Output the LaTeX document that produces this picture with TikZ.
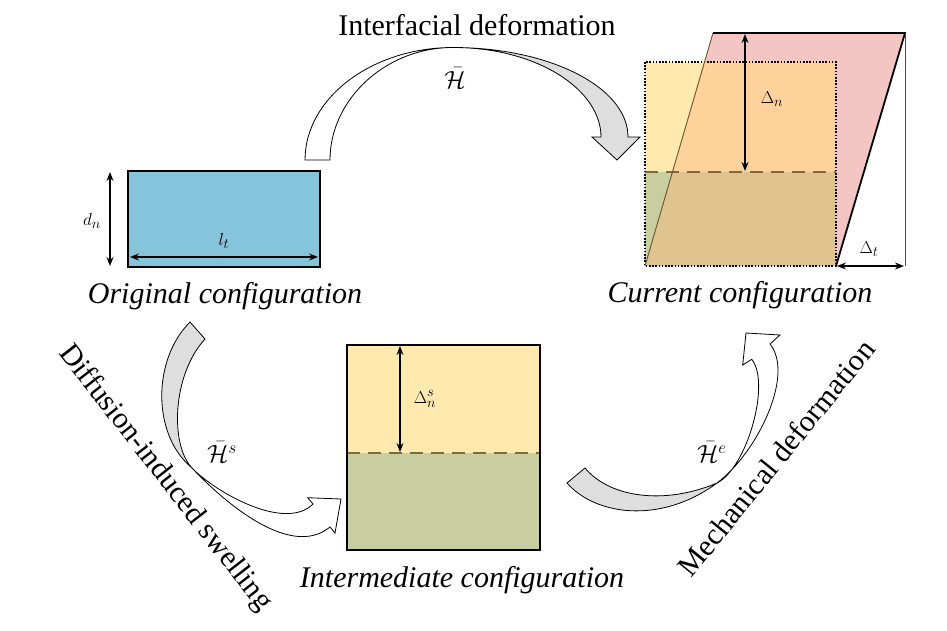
\documentclass[tikz,border=0pt]{standalone}
\usepackage{fontspec}
\setmainfont{Liberation Serif}
\usetikzlibrary{arrows.meta}
\definecolor{cblue}{HTML}{86C4DB}
\definecolor{cyel}{HTML}{FFE9AF}
\definecolor{cgreen}{HTML}{C8CEA0}
\definecolor{cpink}{HTML}{F3C6C4}
\definecolor{corange}{HTML}{FFD29B}
\definecolor{ctan}{HTML}{DFC48F}
\definecolor{cgray}{HTML}{DEDEDE}
\definecolor{cdash}{HTML}{7F6A3A}
\tikzset{
  bigtxt/.style={font=\fontsize{30}{32}\selectfont, inner sep=0pt},
  lbl/.style={font=\fontsize{19}{21}\selectfont, inner sep=0pt},
  hlbl/.style={font=\fontsize{27}{29}\selectfont, inner sep=0pt},
  dim/.style={line width=1.3pt, {Stealth[length=9pt,width=7pt]}-{Stealth[length=9pt,width=7pt]}},
  ribbon/.style={line width=0.8pt, draw=black},
  box/.style={line width=1.8pt, draw=black},
  split/.style={draw=cdash, line width=1.3pt, dash pattern=on 13pt off 8pt},
}
\begin{document}
\begin{tikzpicture}[x=1pt,y=-1pt]
\useasboundingbox (0,0) rectangle (947,630);

% ---------- Original configuration ----------
\fill[cblue] (128,171) rectangle (320,267);
\draw[box] (128,171) rectangle (320,267);
\coordinate (dnA) at (110,172); \coordinate (dnB) at (110,266);
\draw[dim] (dnA) -- (dnB);
\node[lbl] (dn) at (92,221) {$d_n$};
\coordinate (ltA) at (130,257); \coordinate (ltB) at (318,257);
\draw[dim] (ltA) -- (ltB);
\node[lbl] (lt) at (224,241) {$l_t$};
\node[bigtxt, anchor=base] (orig) at (225,303) {\itshape Original configuration};

% ---------- Current configuration ----------
\fill[cyel] (645,62) rectangle (836,172);
\fill[cgreen] (645,172) rectangle (836,266);
\fill[cpink] (645,266) -- (836,266) -- (905,33) -- (713,33) -- cycle;
\begin{scope}
  \clip (645,266) -- (836,266) -- (905,33) -- (713,33) -- cycle;
  \fill[corange] (645,62) rectangle (836,172);
  \fill[ctan] (645,172) rectangle (836,266);
\end{scope}
\draw[split] (645,172) -- (836,172);
\draw[line width=1.2pt, dash pattern=on 1.6pt off 1.6pt] (645,62) rectangle (836,266);
\draw[line width=0.9pt, draw=cdash!80!black] (645,266) -- (713,33);
\draw[line width=1.8pt, line join=miter] (713,33) -- (905,33) -- (836,266);
\draw[line width=0.7pt, draw=black!70] (905,33) -- (905,266);
\coordinate (DnA) at (745,34); \coordinate (DnB) at (745,171);
\draw[dim] (DnA) -- (DnB);
\node[lbl] (Dn) at (772,99) {$\Delta_n$};
\coordinate (DtA) at (837,266); \coordinate (DtB) at (904,266);
\draw[dim] (DtA) -- (DtB);
\node[lbl] (Dt) at (869,249) {$\Delta_t$};
\node[bigtxt, anchor=base] (curr) at (740,302) {\itshape Current configuration};

% ---------- Intermediate configuration ----------
\fill[cyel] (347,345) rectangle (540,453);
\fill[cgreen] (347,453) rectangle (540,550);
\draw[split] (347,453) -- (540,453);
\draw[box] (347,345) rectangle (540,550);
\coordinate (DsA) at (400,346); \coordinate (DsB) at (400,452);
\draw[dim] (DsA) -- (DsB);
\node[lbl] (Ds) at (425,399) {$\Delta_n^s$};
\node[bigtxt, anchor=base] (inter) at (462,587) {\itshape Intermediate configuration};

% ---------- Top ribbon arrow ----------
\filldraw[ribbon, fill=white] (305,160) .. controls (305,98) and (372,47.5) .. (453,47.5)
  .. controls (385,47.5) and (330,100) .. (330,160) -- cycle;
\filldraw[ribbon, fill=cgray, line join=miter] (453,47.5) .. controls (549,47.5) and (628,87) .. (628,137)
  -- (640,137) -- (617,160) -- (592,137) -- (601,137)
  .. controls (601,90) and (538,47.5) .. (453,47.5) -- cycle;
\node[bigtxt, anchor=base] (itf) at (477,35) {Interfacial deformation};
\node[hlbl] (H) at (455,78) {$\bar{\mathcal{H}}$};

% ---------- Lower-left ribbon arrow ----------
\filldraw[ribbon, fill=cgray] (190,322) .. controls (152,360) and (152,435) .. (192,468)
  .. controls (170,445) and (172,375) .. (205,339) -- cycle;
\filldraw[ribbon, fill=white, line join=miter] (192,468) .. controls (222,500) and (290,560) .. (330,527)
  -- (335,533) -- (341,499) -- (307.7,497.7) -- (313,504)
  .. controls (285,532) and (215,492) .. (192,468) -- cycle;
\node[hlbl] (Hs) at (222,452) {$\bar{\mathcal{H}}^{s}$};
\node[bigtxt, rotate=-52] (diff) at (165,478) {Diffusion-induced swelling};

% ---------- Lower-right ribbon arrow ----------
\filldraw[ribbon, fill=cgray] (567,483) .. controls (595,515) and (660,525) .. (717,483)
  .. controls (665,505) and (610,498) .. (585,468) -- cycle;
\filldraw[ribbon, fill=white, line join=miter] (717,483) .. controls (757,453) and (795,375) .. (770,344)
  -- (780,335) -- (746,333) -- (742.7,365) -- (751.7,359.3)
  .. controls (771,383) and (747,468) .. (717,483) -- cycle;
\node[hlbl] (He) at (712,452) {$\bar{\mathcal{H}}^{e}$};
\node[bigtxt, rotate=51] (mech) at (776,458) {Mechanical deformation};
\end{tikzpicture}
\end{document}
